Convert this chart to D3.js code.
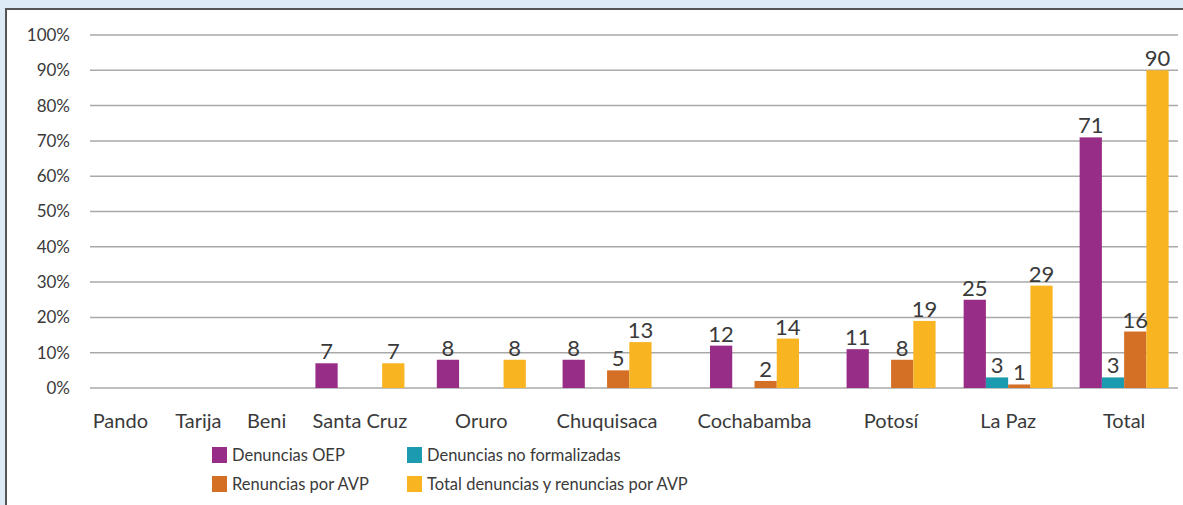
<!DOCTYPE html>
<html>
<head>
<meta charset="utf-8">
<script src="https://cdn.jsdelivr.net/npm/d3@7"></script>
<style>
  html, body { margin: 0; padding: 0; background: #dcebf5; }
  svg { display: block; }
  text { font-family: "Lato", "Open Sans", sans-serif; fill: #3a3a3a; }
</style>
</head>
<body>
<div id="chart"></div>
<script>
// categories and series (counts, plotted on a % axis)
const departments = ["Pando", "Tarija", "Beni", "Santa Cruz", "Oruro", "Chuquisaca", "Cochabamba", "Potosí", "La Paz", "Total"];
const denunciasOEP = [0, 0, 0, 7, 8, 8, 12, 11, 25, 71];
const noFormalizadas = [0, 0, 0, 0, 0, 0, 0, 0, 3, 3];
const renunciasAVP = [0, 0, 0, 0, 0, 5, 2, 8, 1, 16];
const totalDenRen = [0, 0, 0, 7, 8, 13, 14, 19, 29, 90];
const seriesNames = ["Denuncias OEP", "Denuncias no formalizadas", "Renuncias por AVP", "Total denuncias y renuncias por AVP"];
const yTicks = [0, 10, 20, 30, 40, 50, 60, 70, 80, 90, 100];

const colors = ["#982d87", "#1c9aaf", "#d47026", "#f8b521"];

class GroupedBars {
    constructor(parentElement) {
        this.parentElement = parentElement;
        this.initVis();
    }

    initVis() {
        let vis = this;
        vis.width = 1183;
        vis.height = 505;
        vis.margin = {top: 35, right: 9, bottom: 117, left: 90};

        vis.svg = d3.select("#" + vis.parentElement).append("svg")
            .attr("width", vis.width)
            .attr("height", vis.height);

        // white panel with its border
        vis.svg.append("rect")
            .attr("x", 6).attr("y", 9)
            .attr("width", vis.width).attr("height", vis.height)
            .attr("fill", "#fff")
            .attr("stroke", "#555").attr("stroke-width", 2);

        vis.g = vis.svg.append("g")
            .attr("transform", `translate(${vis.margin.left}, ${vis.margin.top})`);

        vis.innerW = vis.width - vis.margin.left - vis.margin.right;
        vis.innerH = vis.height - vis.margin.top - vis.margin.bottom;

        vis.yScale = d3.scaleLinear()
            .domain([0, 100])
            .range([vis.innerH, 0]);

        // the original spacing of the groups is irregular, so map category index to relative centres
        const groupCentres = [0.028, 0.1, 0.163, 0.249, 0.361, 0.477, 0.613, 0.739, 0.847, 0.954];
        vis.xScale = d3.scaleLinear()
            .domain(d3.range(departments.length))
            .range(groupCentres.map(f => f * vis.innerW));

        vis.groupW = 89;
        vis.x1 = d3.scaleBand()
            .domain(d3.range(seriesNames.length))
            .range([-vis.groupW / 2, vis.groupW / 2])
            .padding(0);

        vis.wrangleData();
    }

    wrangleData() {
        let vis = this;
        const all = [denunciasOEP, noFormalizadas, renunciasAVP, totalDenRen];
        vis.bars = [];
        departments.forEach((dep, i) => {
            all.forEach((vals, s) => {
                vis.bars.push({dep: i, series: s, value: vals[i]});
            });
        });
        vis.updateVis();
    }

    updateVis() {
        let vis = this;

        // gridlines
        vis.g.append("g").selectAll("line")
            .data(yTicks)
            .join("line")
            .attr("x1", 0).attr("x2", vis.innerW + 4)
            .attr("y1", d => vis.yScale(d)).attr("y2", d => vis.yScale(d))
            .attr("stroke", "#a9a9a9").attr("stroke-width", 1.5);

        // y labels
        vis.g.append("g").selectAll("text")
            .data(yTicks)
            .join("text")
            .attr("x", -20)
            .attr("y", d => vis.yScale(d))
            .attr("dy", "0.35em")
            .attr("text-anchor", "end")
            .style("font-size", "17px")
            .text(d => d + "%");

        // bars
        const shown = vis.bars.filter(d => d.value > 0);
        vis.g.append("g").selectAll("rect")
            .data(shown)
            .join("rect")
            .attr("x", d => vis.xScale(d.dep) + vis.x1(d.series))
            .attr("width", vis.x1.bandwidth())
            .attr("y", d => vis.yScale(d.value))
            .attr("height", d => vis.yScale(0) - vis.yScale(d.value))
            .attr("fill", d => colors[d.series]);

        // value labels
        vis.g.append("g").selectAll("text")
            .data(shown)
            .join("text")
            .attr("x", d => vis.xScale(d.dep) + vis.x1(d.series) + vis.x1.bandwidth() / 2)
            .attr("y", d => vis.yScale(d.value) - 4)
            .attr("text-anchor", "middle")
            .style("font-size", "22px")
            .text(d => d.value);

        // category labels
        vis.g.append("g").selectAll("text")
            .data(departments)
            .join("text")
            .attr("x", (d, i) => vis.xScale(i))
            .attr("y", vis.innerH + 40)
            .attr("text-anchor", "middle")
            .style("font-size", "20px")
            .text(d => d);

        // legend
        const legend = vis.svg.append("g")
            .attr("transform", "translate(212, 447)");
        const items = legend.selectAll("g")
            .data(seriesNames)
            .join("g")
            .attr("transform", (d, i) => `translate(${(i % 2) * 195}, ${Math.floor(i / 2) * 29})`);
        items.append("rect")
            .attr("width", 15).attr("height", 16)
            .attr("fill", (d, i) => colors[i]);
        items.append("text")
            .attr("x", 20).attr("y", 8)
            .attr("dy", "0.35em")
            .style("font-size", "16.5px")
            .text(d => d);
    }
}

new GroupedBars("chart");
</script>
</body>
</html>
